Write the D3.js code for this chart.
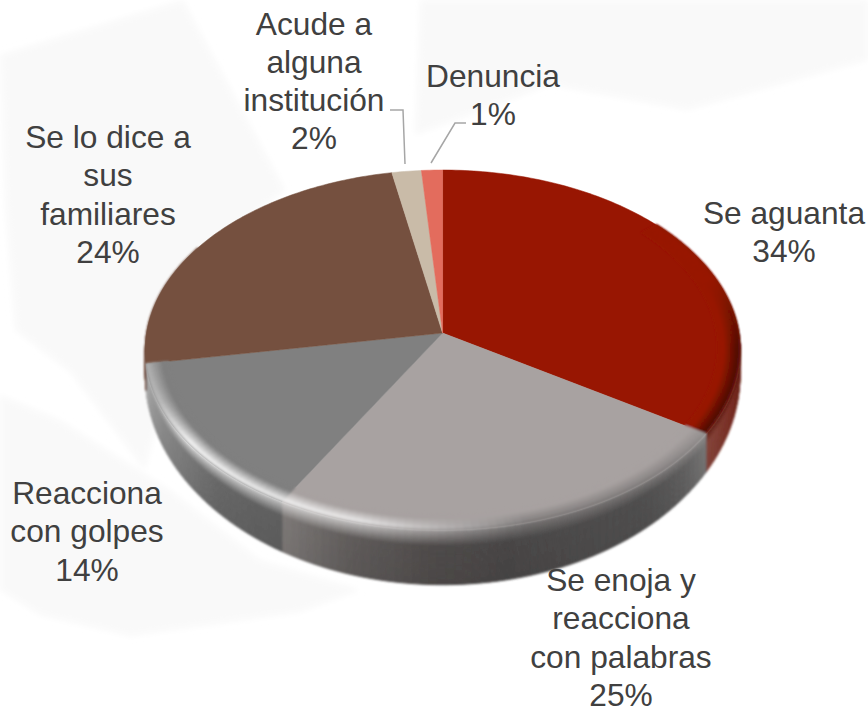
<!DOCTYPE html>
<html><head><meta charset="utf-8">
<script src="https://cdn.jsdelivr.net/npm/d3@7"></script>
<style>html,body{margin:0;padding:0;background:#fff}svg{display:block}</style>
</head><body><svg id="c" width="868" height="711"></svg>
<script>
// ---- data ----
const categories = ["Se aguanta","Se enoja y reacciona con palabras","Reacciona con golpes","Se lo dice a sus familiares","Acude a alguna institución","Denuncia"];
const values = [34, 24.3, 14, 24.7, 1.75, 1.25];
const percentLabels = ["34%","25%","14%","24%","2%","1%"];
const labelLines = [["Se aguanta"],["Se enoja y","reacciona","con palabras"],["Reacciona","con golpes"],["Se lo dice a","sus","familiares"],["Acude a","alguna","institución"],["Denuncia"]];
const sliceColors = ["#981602","#a8a2a1","#808080","#75503f","#c9bba8","#e36c5d"];

// ---- layout / style ----
const labelPos = [[784,224],[621,591],[87,504],[108,148],[314,34.5],[493,86.5]];
const lineStep = 38.3;
const leaders = [[[390,110],[403,110],[405,164]],[[466,123],[455,123],[431,163]]];
const bgShapes = [
  [[0,55],[183,0],[285,190],[200,260],[145,470],[70,372],[15,330],[5,200]],
  [[0,395],[60,420],[170,490],[260,560],[360,590],[300,612],[130,636],[40,615],[0,590]],
  [[420,0],[868,0],[868,60],[687,110],[550,85],[415,135]],
  [[415,190],[540,190],[540,260],[415,260]]
];
const svg = d3.select("#c");
const defs = svg.append("defs");
defs.append("filter").attr("id","bgBlur").append("feGaussianBlur").attr("stdDeviation",3);
defs.append("filter").attr("id","soft").attr("x","-5%").attr("y","-5%").attr("width","110%").attr("height","110%")
  .append("feGaussianBlur").attr("stdDeviation",0.8);
const K = 0.0945, Rx = 296, Cx = 442.6;
const topPlane = {y0:333, S:178.4}, botPlane = {y0:355, S:208};
function project(a, r, plane){
  const u = r*Math.sin(a), v = -r*Math.cos(a), d = 1-K*v;
  return [Cx + Rx*u/d, plane.y0 + plane.S*v/d];
}
const deg = d3.scaleLinear().domain([0,180]).range([0,Math.PI]);
const arcs = d3.pie().sort(null).value(d=>d)(values);

// wall colour stops per slice: [theta in degrees, colour]
const wallStops = [
  [[0,"#7a2a20"],[90,"#5e1a10"],[110,"#7a2f24"],[122.4,"#84443a"]],
  [[122,"#787776"],[130,"#5f5e5e"],[140,"#4f4e4e"],[170,"#484646"],[182,"#4e4a49"],[197,"#605c5b"],[210,"#7d7977"]],
  [[209,"#5d5d5d"],[225,"#666666"],[245,"#8a8a8a"],[255,"#a0a0a0"],[261,"#b8b8b8"]],
  [[260,"#6f4a3c"],[360,"#6f4a3c"]],
  [[340,"#c9bba8"],[360,"#c9bba8"]],
  [[340,"#e36c5d"],[360,"#e36c5d"]]
];
function stopColor(stops,t){
  const sc = d3.scaleLinear().domain(stops.map(s=>s[0])).range(stops.map(s=>s[1])).interpolate(d3.interpolateRgb).clamp(true);
  return sc(t);
}
const hlScale = d3.scaleLinear().domain([165,195,235,248,261]).range([0,.8,.92,.45,.22]).clamp(true);
function ridge(i,t,base,wall){
  if(i===0){ const f = d3.scaleLinear().domain([72,95]).range([0,1]).clamp(true)(t);
    return d3.interpolateRgb(base,"#520f06")(f);}
  if(i===1||i===2){ return d3.interpolateRgb(d3.interpolateRgb(base,wall)(.35),"#ffffff")(hlScale(t)); }
  return base;
}
const rowMap = d3.scaleLinear().domain([0,.3,.9,1.3,2]).range([0,0,1,2,3]).clamp(true);
function meshColor(i,t,row){
  // row: 0..1 over the bevel, 1..2 over the wall
  const base = sliceColors[i], wall = stopColor(wallStops[i],t);
  const rc = ridge(i,t,base,wall);
  const m = rowMap(row);
  if(m<=1) return d3.interpolateRgb(base,rc)(m);
  if(m<=2) return d3.interpolateRgb(rc,wall)(m-1);
  return d3.interpolateRgb(wall,d3.rgb(wall).darker(.12).formatHex())(m-2);
}
// faint backdrop
svg.append("rect").attr("width",868).attr("height",711).attr("fill","#fff");
svg.append("g").attr("filter","url(#bgBlur)").selectAll("path").data(bgShapes).join("path")
  .attr("d",d=>d3.line()(d)+"Z").attr("fill","#f9f9f9");

const dRow = 0.04;
const rows = d3.range(0,2-1e-9,dRow);
const innerR = 0.925;
function rowPoint(a,row){
  if(row<=1) return project(a, innerR+(1-innerR)*row, topPlane);
  const p = project(a,1,topPlane), q = project(a,1,botPlane), w = row-1;
  return [p[0]+(q[0]-p[0])*w, p[1]+(q[1]-p[1])*w];
}
const walls = svg.append("g").attr("filter","url(#soft)");
const faces = svg.append("g");
const bevel = svg.append("g").attr("filter","url(#soft)");
const cells = [];
arcs.forEach((arc,i)=>{
  const a0 = arc.startAngle*180/Math.PI, a1 = arc.endAngle*180/Math.PI;
  const lo = Math.max(a0,50), hi = Math.min(a1,300);
  if(lo>=hi) return;
  const ts = d3.range(lo,hi,1.5).concat([hi]);
  for(let j=0;j<ts.length-1;j++){
    rows.forEach(r=>{
      if(r<1 && (i>2)) return;
      cells.push({i,t0:ts[j],t1:ts[j+1],r0:r,r1:r+dRow});
    });
  }
});
const faceLine = d3.line();
faces.selectAll("path").data(arcs).join("path")
  .attr("fill",(d,i)=>sliceColors[i])
  .attr("stroke",(d,i)=>sliceColors[i]).attr("stroke-width",.5)
  .attr("d",d=>{
    const n = Math.max(4,Math.ceil((d.endAngle-d.startAngle)*60));
    const pts = [[Cx,topPlane.y0]];
    for(let k=0;k<=n;k++) pts.push(project(d.startAngle+(d.endAngle-d.startAngle)*k/n,1,topPlane));
    return faceLine(pts)+"Z";
  });
const cellPath = c=>{
  const a0=deg(c.t0),a1=deg(c.t1);
  return faceLine([rowPoint(a0,c.r0),rowPoint(a1,c.r0),rowPoint(a1,c.r1),rowPoint(a0,c.r1)])+"Z";
};
const wallCells = cells.filter(c=>c.r0>=1-1e-9), bevelCells = cells.filter(c=>c.r0<1-1e-9);
const colorOf = c=>meshColor(c.i,(c.t0+c.t1)/2,(c.r0+c.r1)/2);
walls.selectAll("path").data(wallCells).join("path").attr("d",cellPath)
  .attr("fill",colorOf).attr("stroke",colorOf).attr("stroke-width",1);
bevel.selectAll("path").data(bevelCells).join("path").attr("d",cellPath)
  .attr("fill",colorOf).attr("stroke",colorOf).attr("stroke-width",1);
// leaders
svg.append("g").selectAll("path").data(leaders).join("path")
  .attr("d",d=>d3.line()(d)).attr("fill","none").attr("stroke","#a6a6a6").attr("stroke-width",1.5);
// labels
const lab = svg.append("g").attr("font-family","'Liberation Sans',Arial,sans-serif").attr("font-size",31.7)
  .attr("fill","#404040").attr("text-anchor","middle");
labelLines.forEach((lines,i)=>{
  const all = lines.concat([percentLabels[i]]);
  lab.append("text").attr("data-cat",categories[i]).selectAll("tspan").data(all).join("tspan")
    .attr("x",labelPos[i][0]).attr("y",(d,k)=>labelPos[i][1]+k*lineStep).text(d=>d);
});
</script></body></html>
